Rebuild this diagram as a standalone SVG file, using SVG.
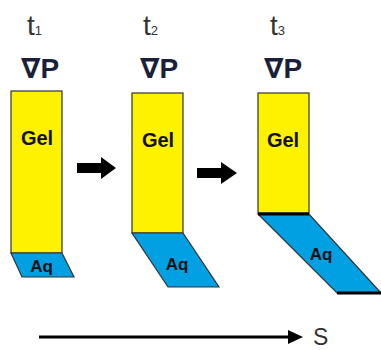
<svg xmlns="http://www.w3.org/2000/svg" width="381" height="350" viewBox="0 0 381 350">
<style>
.gel{fill:#FFF200;stroke:#333;stroke-width:1.2}
.aq{fill:#00A0E3;stroke:#333;stroke-width:1.2}
.lbl{font-family:"Liberation Sans",Arial,sans-serif;font-weight:bold;fill:#111;text-anchor:middle}
.g{font-size:20px}
.a{font-size:17px}
.t{font-family:"Liberation Sans",Arial,sans-serif;fill:#333;font-size:28px}
.sub{font-size:13px}
.vp{font-family:"Liberation Sans","DejaVu Sans",Arial,sans-serif;font-weight:bold;fill:#1a1f3a;font-size:28px;text-anchor:middle}
.blk{fill:#000}
</style>
<g id="panel1">
<text class="t" x="27" y="35">t<tspan class="sub">1</tspan></text>
<text class="vp" x="40" y="78">∇P</text>
<rect class="gel" x="11" y="91" width="51" height="162"/>
<polygon class="aq" points="11,253 62,253 74,277 22,277"/>
<text class="lbl g" x="37" y="145">Gel</text>
<text class="lbl a" x="41.5" y="272">Aq</text>
</g>
<g id="panel2">
<text class="t" x="143" y="35">t<tspan class="sub">2</tspan></text>
<text class="vp" x="159" y="78">∇P</text>
<rect class="gel" x="132" y="93" width="51" height="140"/>
<polygon class="aq" points="132,233 183,233 219,287 168,287"/>
<text class="lbl g" x="158" y="147">Gel</text>
<text class="lbl a" x="177" y="270">Aq</text>
</g>
<g id="panel3">
<text class="t" x="270" y="35">t<tspan class="sub">3</tspan></text>
<text class="vp" x="283" y="78">∇P</text>
<rect class="gel" x="258" y="93" width="51" height="120"/>
<polygon class="aq" points="258,214 309,214 381,293 337,293"/>
<line x1="258" y1="214" x2="309" y2="214" stroke="#000" stroke-width="3"/>
<line x1="337" y1="293" x2="381" y2="293" stroke="#000" stroke-width="3"/>
<text class="lbl g" x="283" y="147">Gel</text>
<text class="lbl a" x="321" y="260">Aq</text>
</g>
<g id="connectors">
<polygon class="blk" points="77,163 101,163 101,157 116,168 101,179 101,173 77,173"/>
<polygon class="blk" points="197,168 221,168 221,162 237,173 221,184 221,178 197,178"/>
<line x1="39" y1="337" x2="290" y2="337" stroke="#000" stroke-width="3"/>
<polygon class="blk" points="288,330 303,337 288,344"/>
</g>
<text class="t" x="313" y="345" font-size="22" style="font-size:23px" fill="#222">S</text>
</svg>
